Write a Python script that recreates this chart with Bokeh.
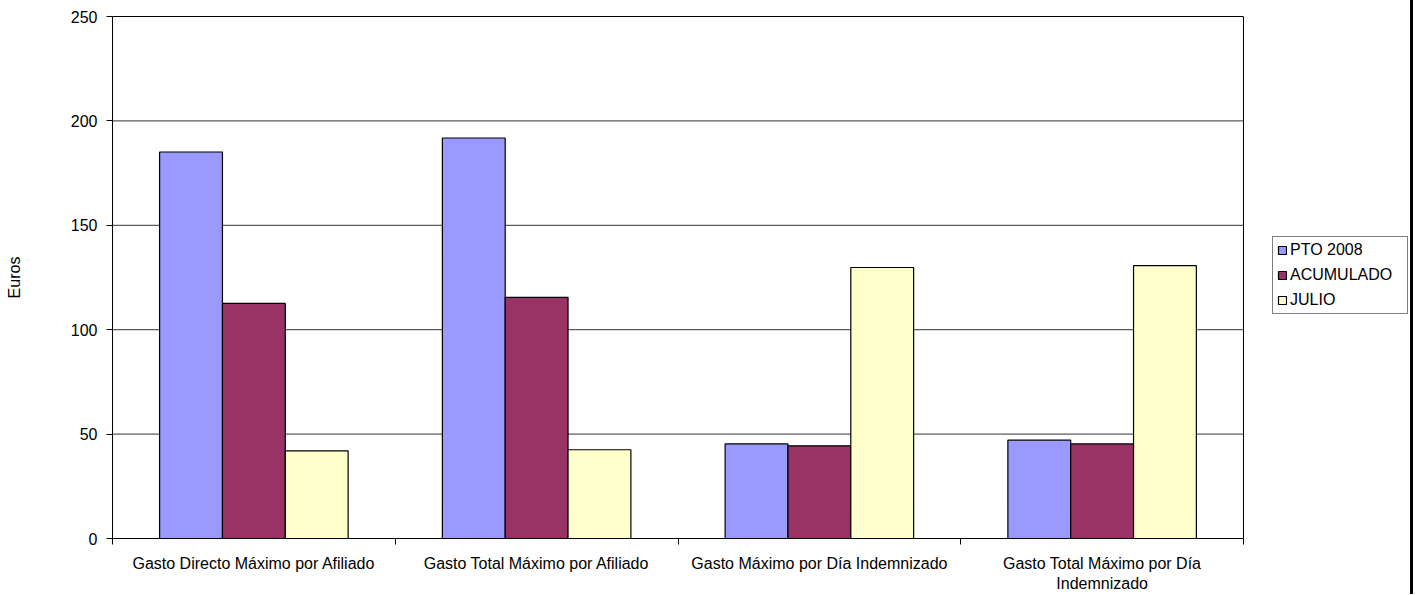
from bokeh.plotting import figure
from bokeh.models import (Range1d, LinearAxis, FixedTicker,
                          Legend, LegendItem, ColumnDataSource)
from bokeh.transform import dodge
from bokeh.embed import file_html
from bokeh.resources import INLINE

categories = ["Gasto Directo Máximo por Afiliado",
              "Gasto Total Máximo por Afiliado",
              "Gasto Máximo por Día Indemnizado",
              "Gasto Total Máximo por Día\nIndemnizado"]
series_names = ["PTO 2008", "ACUMULADO", "JULIO"]
pto_2008 = [185.1, 191.8, 45.3, 47.1]
acumulado = [112.6, 115.5, 44.4, 45.3]
julio = [42.0, 42.5, 129.8, 130.7]
y_ticks = [0, 50, 100, 150, 200, 250]

colors = ["#9999FF", "#993366", "#FFFFCC"]
FONT = "Liberation Sans"
FS = "16px"

n = len(categories)
centers = [i + 0.5 for i in range(n)]
src = ColumnDataSource(dict(x=centers, pto=pto_2008, acu=acumulado, jul=julio))

# frame spans the plot area plus the legend area to its right (legend drawn inside frame)
PLOT_PX, FRAME_PX = 1131, 1296
x_end = n * FRAME_PX / PLOT_PX

p = figure(x_range=Range1d(0, x_end), y_range=Range1d(0, 250),
           width=1413, height=594, output_backend="svg", toolbar_location=None,
           x_axis_location=None, y_axis_location="left",
           min_border_left=112, min_border_top=16, min_border_bottom=54, min_border_right=5)
p.outline_line_color = None
p.xgrid.visible = False
p.ygrid.visible = False

# gridlines and right border of the plot area, bounded to the categories
grid_vals = [t for t in y_ticks if 0 < t < y_ticks[-1]]
p.segment(x0=[0] * len(grid_vals), x1=[n] * len(grid_vals), y0=grid_vals, y1=grid_vals,
          line_color="#333333", line_width=1)
p.segment(x0=[n], x1=[n], y0=[y_ticks[0]], y1=[y_ticks[-1]], line_color="black", line_width=1)

bw = 1.0 / 4.5
renderers = []
for field, off, col in zip(["pto", "acu", "jul"], [-bw, 0, bw], colors):
    r = p.vbar(x=dodge("x", off), top=field, width=bw, source=src,
               fill_color=col, line_color="black", line_width=1.2)
    renderers.append(r)

# y axis
yax = p.yaxis[0]
yax.ticker = FixedTicker(ticks=y_ticks)
yax.axis_label = "Euros"
yax.axis_label_text_font = FONT
yax.axis_label_text_font_size = FS
yax.axis_label_text_font_style = "normal"
yax.axis_label_text_color = "black"
yax.axis_label_standoff = 45
yax.major_label_text_font = FONT
yax.major_label_text_font_size = FS
yax.major_label_text_color = "black"
yax.major_tick_out = 6
yax.major_tick_in = 0
yax.minor_tick_out = 0
yax.minor_tick_in = 0
yax.major_label_standoff = 9
yax.axis_line_color = "black"
yax.major_tick_line_color = "black"

# top border of the plot area
top_ax = LinearAxis(ticker=FixedTicker(ticks=[]), bounds=(0, n),
                    major_label_text_font_size="0px", major_label_standoff=0,
                    major_tick_out=0, major_tick_in=0, minor_tick_out=0, minor_tick_in=0,
                    axis_line_color="black")
p.add_layout(top_ax, "above")

# x ticks at category boundaries
tick_ax = LinearAxis(ticker=FixedTicker(ticks=list(range(n + 1))), bounds=(0, n),
                     major_label_text_font_size="0px", major_label_standoff=0,
                     major_tick_out=6, major_tick_in=0, minor_tick_out=0, minor_tick_in=0,
                     axis_line_color="black", major_tick_line_color="black")
p.add_layout(tick_ax, "below")
cat_ax = LinearAxis(ticker=FixedTicker(ticks=centers),
                    major_label_overrides={c: lab for c, lab in zip(centers, categories)},
                    major_tick_out=0, major_tick_in=0, minor_tick_out=0, minor_tick_in=0,
                    axis_line_color=None,
                    major_label_text_font=FONT, major_label_text_font_size=FS,
                    major_label_text_color="black",
                    major_label_standoff=10)
p.add_layout(cat_ax, "below")

legend = Legend(items=[LegendItem(label=s, renderers=[r]) for s, r in zip(series_names, renderers)],
                location=(1160, 224), orientation="vertical",
                label_text_font=FONT, label_text_font_size=FS, label_text_color="black",
                glyph_width=10, glyph_height=10, label_height=18, label_width=113, spacing=7,
                label_standoff=3, padding=4, margin=0,
                border_line_color="black", border_line_width=1,
                background_fill_color="white")
p.add_layout(legend, "center")

p.styles = {"border-right": "3px solid black"}

open("out.html", "w").write(file_html(p, INLINE))
